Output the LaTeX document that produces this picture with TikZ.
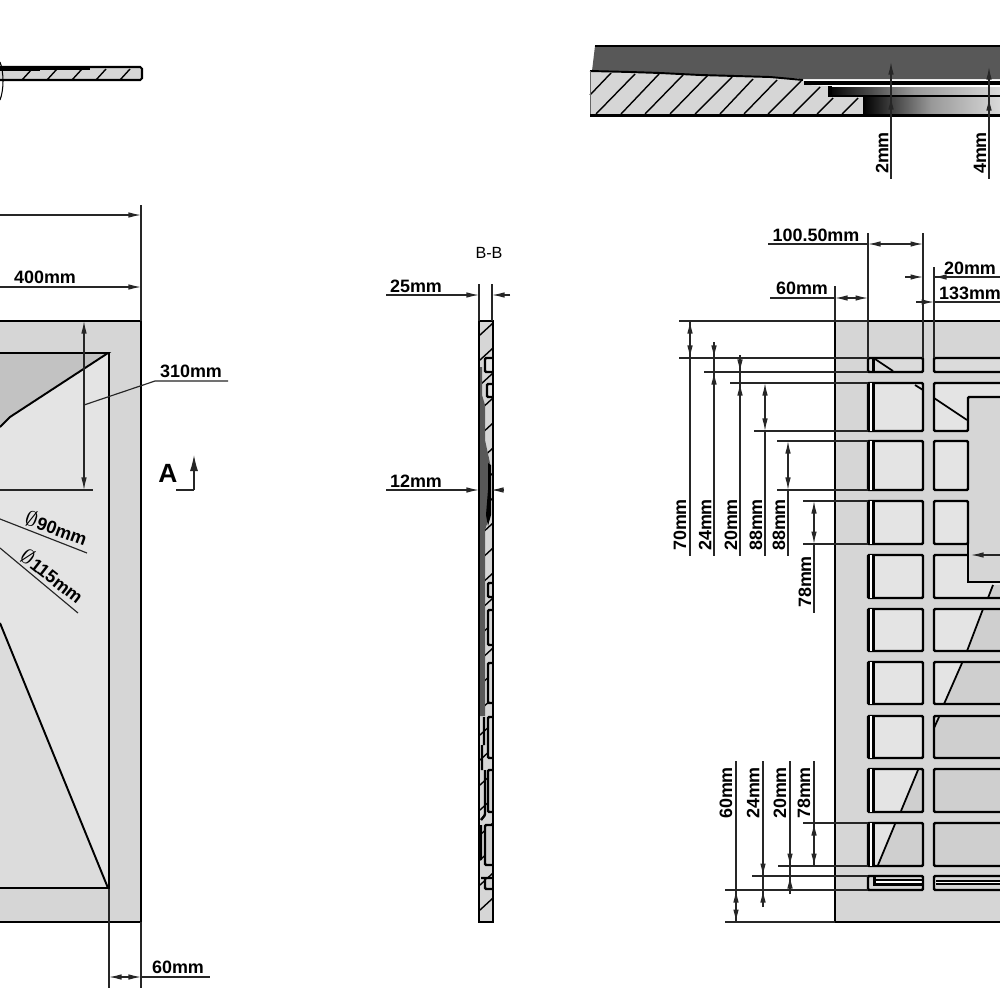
\documentclass[tikz,border=0pt]{standalone}
\usepackage{fontspec}
\setmainfont{Liberation Sans}
\usetikzlibrary{arrows.meta}
\definecolor{panelgray}{HTML}{D6D6D6}
\definecolor{celllight}{HTML}{E4E4E4}
\definecolor{celldark}{HTML}{CFCFCF}
\definecolor{topdark}{HTML}{585858}
\tikzset{
    >={Latex[length=1.25mm,width=.55mm]},
    dimline/.style={line width=.33pt, black!85},
    edgeline/.style={line width=.55pt, black},
    ribline/.style={line width=.7pt, black, rounded corners=.3pt},
    barline/.style={line width=.85pt, black},
    hatchline/.style={line width=.4pt, black},
    dimlabel/.style={font=\fontsize{5.1pt}{6pt}\selectfont\bfseries, inner sep=0pt},
    sidelabel/.style={dimlabel, rotate=90},
}
\newcommand{\diasign}{{\fontsize{6.4pt}{6.4pt}\selectfont$\emptyset$}}
\begin{document}
\begin{tikzpicture}[x=.01cm, y=-.01cm]
    \clip (0,0) rectangle (1000,1000);
    \fill[white] (0,0) rectangle (1000,1000);

    %small section, top left
    \fill[panelgray] (0,67) rectangle (142,80);
    \foreach \x in {22,47,72,96,120} {
        \draw[hatchline] (\x,80) -- (\x+10,69);
    }
    \draw[line width=.6pt, rounded corners=.5pt] (0,67) -- (142,67) -- (142,80) -- (0,80);
    \draw[line width=.9pt] (0,69) -- (40,69) (40,68.5) -- (90,68.5);
    \draw[line width=.3pt] (0,62) .. controls (4,72) and (4,90) .. (0,100);

    %section, top right
    \fill[topdark] (595,46) -- (1000,46) -- (1000,79) -- (803,79) -- (770,77) -- (735,76)
        -- (700,75) -- (660,73) -- (630,72) -- (592,71) -- cycle;
    \draw[line width=.6pt] (595,46) -- (1000,46);
    \fill[panelgray] (590,71) -- (630,72) -- (660,73) -- (700,75) -- (735,76) -- (770,77)
        -- (803,80) -- (806,85) -- (828,86) -- (830,97) -- (863,97) -- (863,115) -- (590,115) -- cycle;
    \foreach \xa/\ya/\xb/\yb in {590/95/611/73, 596/114/635/74, 621/114/659/74, 645/114/683/75,
        670/114/708/75, 695/114/732/77, 720/114/753/79, 744/114/777/80, 768/114/801/81,
        793/114/820/87, 817/114/833/98, 842/114/858/98} {
        \draw[hatchline] (\xa,\ya) -- (\xb,\yb);
    }
    \draw[line width=.55pt] (590,71) -- (630,72) -- (660,73) -- (700,75) -- (735,76) -- (770,77) -- (803,80);
    \draw[line width=.2pt, black!60] (590,71) -- (590,115);
    \fill[black] (804,81) rectangle (1000,85);
    \shade[left color=black, right color=white!85!black, middle color=black!40] (828,87) rectangle (1000,95);
    \fill[black] (828,86) rectangle (832,97);
    \fill[black] (830,95) rectangle (1000,97);
    \shade[left color=black, right color=white!85!black, middle color=black!40] (863,97) rectangle (1000,115);
    \draw[line width=.6pt] (590,115.5) -- (1000,115.5);

    \draw[dimline, <-] (891,62) -- (891,179);
    \draw[dimline, ->] (891,106) -- (891,97);
    \draw[dimline, <-] (989,67) -- (989,179);
    \draw[dimline, ->] (989,109) -- (989,98);
    \node[sidelabel] (lbltwo) at (882,153) {2mm};
    \node[sidelabel] (lblfour) at (980,153) {4mm};

    %plan, left
    \fill[panelgray] (0,321) rectangle (141,922);
    \fill[celllight] (0,353) rectangle (109,889);
    \fill[black!12!white!98!black] (0,623) -- (108,888) -- (0,888) -- cycle;
    \fill[black!24] (0,353) -- (108,353) -- (10,417) -- (0,427) -- cycle;
    \draw[edgeline] (0,353) -- (108,353) -- (10,417) -- (0,427);
    \draw[edgeline] (0,623) -- (108,888) -- (0,888);
    \draw[line width=.45pt] (109,353) -- (109,889);
    \draw[line width=.65pt] (0,321) -- (141,321) -- (141,922) -- (0,922);

    \draw[dimline] (141,205) -- (141,321);
    \draw[dimline, ->] (0,215) -- (141,215);
    \draw[dimline, ->] (0,287) -- (141,287);
    \node[dimlabel] (lbl400) at (45,277) {400mm};
    \draw[dimline, <->] (84,321) -- (84,490);
    \draw[dimline] (0,490) -- (93,490);
    \draw[dimline] (84,405) -- (155,381) -- (228,381);
    \node[dimlabel] (lbl310) at (191,371) {310mm};
    \draw[dimline] (0,519) -- (87,553);
    \draw[dimline] (0,548) -- (78,613);
    \node[dimlabel, rotate=-20] (lbl90) at (56,528) {\diasign 90mm};
    \node[dimlabel, rotate=-38] (lbl115) at (52,576) {\diasign 115mm};
    \node[font=\fontsize{7.5pt}{8pt}\selectfont\bfseries, inner sep=0pt] (lblA) at (168,473) {A};
    \draw[dimline] (176,490) -- (194,490);
    \draw[dimline, -{Latex[length=1.6mm,width=.8mm]}] (194,490) -- (194,455);
    \draw[dimline] (109,889) -- (109,988) (141,922) -- (141,988);
    \draw[dimline, <->] (109,977) -- (141,977);
    \draw[dimline] (141,977) -- (210,977);
    \node[dimlabel] (lblsixty) at (178,967) {60mm};

    %section B-B
    \node[font=\fontsize{4.6pt}{6pt}\selectfont, inner sep=0pt] (lblBB) at (489,253) {B-B};
    \fill[panelgray] (479,321) rectangle (493,922);
    \foreach \y in {335,360,...,920} {
        \draw[hatchline] (480,\y) -- (493,\y-12);
    }
    \foreach \xa/\ya/\yb/\colr in {485/358/372/celllight, 487/384/397/celllight, 488/583/597/panelgray,
        488/610/645/panelgray, 488/663/703/panelgray, 488/717/758/panelgray, 488/770/812/celldark,
        485/825/865/celldark, 485/878/889/celldark} {
        \fill[\colr] (\xa,\ya) rectangle (492.5,\yb);
        \draw[ribline] (492.5,\ya) -- (\xa,\ya) -- (\xa,\yb) -- (492.5,\yb);
    }
    \fill[topdark] (480,367) -- (482,367) -- (482,395) -- (485,405) -- (485,440) -- (490,463)
        -- (490,515) -- (485,530) -- (485,716) -- (480,716) -- cycle;
    \fill[black] (488,463) -- (491,465) -- (491,515) -- (488,526) -- (486,515) -- (488,490) -- cycle;
    \draw[ribline] (484,717) -- (484,745) (482,745) -- (482,770) (485,770) -- (485,815) -- (481,820)
        (481,825) -- (481,860) (481,878) -- (485,878);
    \draw[line width=.65pt] (479,321) rectangle (493,922);
    \draw[dimline] (479,284) -- (479,321) (492,284) -- (492,321);
    \draw[dimline, ->] (386,295) -- (479,295);
    \draw[dimline, ->] (510,295) -- (492,295);
    \node[dimlabel] (lbltwentyfive) at (416,286) {25mm};
    \draw[dimline, ->] (386,490) -- (479,490);
    \draw[dimline, ->] (504,490) -- (491,490);
    \node[dimlabel] (lbltwelve) at (416,481) {12mm};

    %plan, right
    \fill[panelgray] (835,321) rectangle (1000,922);
    \foreach \ya/\yb in {383/431,441/490,501/544,555/598,609/651,662/704,716/758,769/812,823/866} {
        \fill[celllight] (868,\ya) rectangle (923,\yb);
    }
    \foreach \ya/\yb in {441/490,501/544} {
        \fill[celllight] (934,\ya) rectangle (968,\yb);
    }
    \fill[celllight] (934,383) rectangle (968,431);
    \fill[celllight] (934,383) rectangle (1000,397);
    \fill[celllight] (934,555) rectangle (1000,598);
    \fill[celllight] (934,609) rectangle (1000,651);
    \fill[celllight] (934,662) rectangle (1000,704);
    %darker parts behind the sloped edges
    \fill[celldark] (923,770) -- (918,770) -- (901,811) -- (923,811) -- cycle;
    \fill[celldark] (923,824) -- (895,824) -- (878,865) -- (923,865) -- cycle;
    \fill[celldark] (983,609) -- (967,651) -- (1000,651) -- (1000,609) -- cycle;
    \fill[celldark] (962,662) -- (944,704) -- (1000,704) -- (1000,662) -- cycle;
    \fill[celldark] (939,716) -- (934,728) -- (934,758) -- (1000,758) -- (1000,716) -- cycle;
    \fill[celldark] (934,769) rectangle (1000,812);
    \fill[celldark] (934,823) rectangle (1000,866);
    \fill[panelgray] (968,397) rectangle (1000,582);
    \fill[celldark] (993,585) -- (988,598) -- (1000,598) -- (1000,585) -- cycle;
    %first column, with its double bar
    \foreach \ya/\yb in {383/431,441/490,501/544,555/598,609/651,662/704,716/758,769/812,823/866} {
        \draw[ribline] (868,\ya) rectangle (923,\yb);
        \fill[white] (869,\ya) rectangle (872,\yb);
        \draw[barline] (868.5,\ya) -- (868.5,\yb);
        \draw[barline] (873,\ya) -- (873,\yb);
    }
    %top row and bottom row
    \fill[black!14] (868,358) rectangle (923,372);
    \fill[black!14] (934,358) rectangle (1000,372);
    \draw[ribline] (868,358) rectangle (923,372);
    \draw[barline] (873,358) -- (873,372);
    \draw[ribline] (1002,358) -- (934,358) -- (934,372) -- (1002,372);
    \fill[white] (874,880) rectangle (923,884);
    \draw[ribline] (868,876) rectangle (923,890);
    \draw[barline] (874,876) -- (874,884) -- (923,884);
    \draw[line width=.3pt] (874,880) -- (923,880);
    \fill[white] (936,881) rectangle (1000,884);
    \draw[ribline] (1002,876) -- (934,876) -- (934,890) -- (1002,890);
    \draw[line width=.5pt] (936,881) -- (1002,881) (936,884) -- (1002,884);
    %second column
    \draw[ribline] (1002,383) -- (934,383) -- (934,431) -- (968,431) -- (968,397) -- (1002,397);
    \foreach \ya/\yb in {441/490,501/544} {
        \draw[ribline] (934,\ya) rectangle (968,\yb);
    }
    \draw[ribline] (1002,598) -- (934,598) -- (934,555) -- (968,555);
    \draw[line width=.5pt] (968,544) -- (968,582) -- (1002,582);
    \foreach \ya/\yb in {609/651,662/704,716/758,769/812,823/866} {
        \draw[ribline] (1002,\ya) -- (934,\ya) -- (934,\yb) -- (1002,\yb);
    }
    %sloped edges
    \foreach \xa/\ya/\xb/\yb in {875/359/893/371, 915/385/923/390, 934/398/967/420, 993/585/988/598,
        983/609/967/651, 962/663/944/704, 939/717/934/728, 918/770/901/811, 895/824/878/865} {
        \draw[hatchline, line width=.5pt] (\xa,\ya) -- (\xb,\yb);
    }
    \draw[dimline, ->] (1000,555) -- (971,555);
    \draw[line width=.5pt] (835,321) -- (1000,321) (835,321) -- (835,922) -- (1000,922);

    %widths above the right plan
    \draw[dimline] (868,233) -- (868,358) (923,233) -- (923,358) (934,267) -- (934,358) (835,286) -- (835,321);
    \draw[dimline, <->] (868,244) -- (923,244);
    \draw[dimline] (768,244) -- (868,244);
    \node[dimlabel] (lblhundred) at (816,235) {100.50mm};
    \draw[dimline, <->] (835,298) -- (868,298);
    \draw[dimline] (770,298) -- (835,298);
    \node[dimlabel] (lblsixtyb) at (802,288) {60mm};
    \draw[dimline, ->] (905,277) -- (923,277);
    \draw[dimline, ->] (952,277) -- (934,277);
    \draw[dimline] (934,277) -- (1000,277);
    \node[dimlabel] (lbltwenty) at (970,268) {20mm};
    \draw[dimline, ->] (916,302) -- (934,302);
    \draw[dimline] (934,302) -- (1000,302);
    \node[dimlabel] (lblonethree) at (970,293) {133mm};

    %heights from the top
    \foreach \y/\xs in {321/679,358/679,372/704,383/730,431/754,441/777,490/777,501/803,544/803} {
        \draw[dimline] (\xs,\y) -- (868,\y);
    }
    \draw[dimline] (690,321) -- (690,556);
    \draw[dimline, ->] (690,345) -- (690,321);
    \draw[dimline, ->] (690,340) -- (690,358);
    \draw[dimline] (714,342) -- (714,556);
    \draw[dimline, ->] (714,342) -- (714,358);
    \draw[dimline, ->] (714,390) -- (714,372);
    \draw[dimline] (740,355) -- (740,556);
    \draw[dimline, ->] (740,355) -- (740,372);
    \draw[dimline, ->] (740,400) -- (740,383);
    \draw[dimline, <->] (765,383) -- (765,431);
    \draw[dimline] (765,431) -- (765,556);
    \draw[dimline, <->] (788,441) -- (788,490);
    \draw[dimline] (788,490) -- (788,556);
    \draw[dimline, <->] (814,501) -- (814,544);
    \draw[dimline] (814,544) -- (814,613);
    \node[sidelabel] (lblh70) at (680,525) {70mm};
    \node[sidelabel] (lblh24) at (705,525) {24mm};
    \node[sidelabel] (lblh20) at (731,525) {20mm};
    \node[sidelabel] (lblh88a) at (756,525) {88mm};
    \node[sidelabel] (lblh88b) at (779,525) {88mm};
    \node[sidelabel] (lblh78) at (805,582) {78mm};

    %heights from the bottom
    \foreach \y/\xs in {823/803,866/778,876/752,890/725} {
        \draw[dimline] (\xs,\y) -- (868,\y);
    }
    \draw[dimline] (725,922) -- (835,922);
    \draw[dimline] (736,761) -- (736,922);
    \draw[dimline, ->] (736,905) -- (736,890);
    \draw[dimline, ->] (736,907) -- (736,922);
    \draw[dimline] (763,761) -- (763,907);
    \draw[dimline, ->] (763,860) -- (763,876);
    \draw[dimline, ->] (763,907) -- (763,890);
    \draw[dimline] (790,761) -- (790,894);
    \draw[dimline, ->] (790,850) -- (790,866);
    \draw[dimline, ->] (790,894) -- (790,876);
    \draw[dimline] (814,761) -- (814,866);
    \draw[dimline, <->] (814,823) -- (814,866);
    \node[sidelabel] (lblb60) at (726,793) {60mm};
    \node[sidelabel] (lblb24) at (753,793) {24mm};
    \node[sidelabel] (lblb20) at (780,793) {20mm};
    \node[sidelabel] (lblb78) at (804,793) {78mm};

\end{tikzpicture}
\end{document}
